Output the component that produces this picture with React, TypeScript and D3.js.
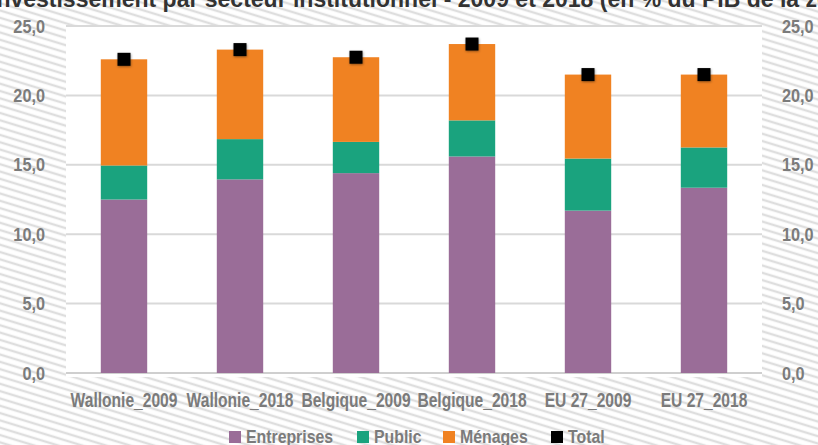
import React from 'react';
import * as d3 from 'd3';

const categories = ['Wallonie_2009', 'Wallonie_2018', 'Belgique_2009', 'Belgique_2018', 'EU 27_2009', 'EU 27_2018'];
const entreprises = [12.5, 13.95, 14.4, 15.6, 11.7, 13.35];
const publicInv = [2.45, 2.9, 2.25, 2.6, 3.75, 2.9];
const menages = [7.65, 6.45, 6.1, 5.5, 6.05, 5.25];
const total = [22.6, 23.3, 22.75, 23.7, 21.5, 21.5];
const yTicks = [0, 5, 10, 15, 20, 25];
const seriesNames = ['Entreprises', 'Public', 'Ménages'];
const seriesColors = ['#9a6d98', '#1aa37e', '#f08222'];

const W = 818, H = 445;
const FONT = "'Liberation Sans', Arial, sans-serif";
const GREY = '#7b7b7b';

// condensed text: horizontal squeeze of a regular bold face
const CText = (p: { x: number; y: number; sx: number; size: number; anchor?: string; fill?: string; children: any }) => (
  <text
    transform={`translate(${p.x},${p.y}) scale(${p.sx},1)`}
    textAnchor={p.anchor || 'start'}
    fontSize={p.size}
    fontWeight="bold"
    fill={p.fill || GREY}
  >
    {p.children}
  </text>
);

export default function App() {
  const x = d3.scaleBand<string>().domain(categories).range([66, 762]).paddingInner(0.6).paddingOuter(0.3);
  const y = d3.scaleLinear().domain([0, 25]).range([373, 26]);
  const fmt = (v: number) => d3.format('.1f')(v).replace('.', ',');

  const rows = categories.map((c, i) => ({ c, Entreprises: entreprises[i], Public: publicInv[i], 'Ménages': menages[i] }));
  const stacked = d3.stack<any>().keys(seriesNames)(rows);

  const legend = [
    { name: 'Entreprises', color: seriesColors[0], x: 229 },
    { name: 'Public', color: seriesColors[1], x: 357 },
    { name: 'Ménages', color: seriesColors[2], x: 443 },
    { name: 'Total', color: '#000', x: 551 },
  ];

  return (
    <svg width={W} height={H} style={{ position: 'absolute', left: 0, top: 0 }} fontFamily={FONT}>
      <defs>
        <pattern id="stripes" width="8" height="7" patternUnits="userSpaceOnUse" patternTransform="rotate(17)">
          <rect width="8" height="7" fill="#fff" />
          <line x1="0" y1="3" x2="8" y2="3" stroke="#dedede" strokeWidth="2.4" />
        </pattern>
        <filter id="shadow" x="-30%" y="-30%" width="160%" height="160%">
          <feDropShadow dx="0.5" dy="1" stdDeviation="0.8" floodColor="#000" floodOpacity="0.4" />
        </filter>
      </defs>
      <rect width={W} height={H} fill="url(#stripes)" />
      <rect x={66} y={26} width={696} height={351} fill="#fff" />

      <CText x={-10} y={7} sx={1.0} size={23} fill="#333">
        Investissement par secteur institutionnel - 2009 et 2018 (en % du PIB de la zone)
      </CText>

      {yTicks.map(t => (
        <g key={t}>
          <line x1={66} x2={762} y1={y(t)} y2={y(t)} stroke={t === 0 ? '#cfcfcf' : '#d9d9d9'} strokeWidth={2} />
          <CText x={45} y={y(t) + 6.5} sx={0.88} size={18.5} anchor="end">{fmt(t)}</CText>
          <CText x={782} y={y(t) + 6.5} sx={0.88} size={18.5}>{fmt(t)}</CText>
        </g>
      ))}

      {stacked.map((s, si) => (
        <g key={s.key} fill={seriesColors[si]}>
          {s.map((d, i) => (
            <rect key={i} x={x(categories[i])} width={x.bandwidth()} y={y(d[1])} height={y(d[0]) - y(d[1])} />
          ))}
        </g>
      ))}

      {total.map((v, i) => (
        <rect key={i} x={(x(categories[i]) as number) + x.bandwidth() / 2 - 6.5} y={y(v) - 6.5} width={13} height={13} fill="#050505" filter="url(#shadow)" />
      ))}

      {categories.map(c => (
        <CText key={c} x={(x(c) as number) + x.bandwidth() / 2} y={407} sx={0.8} size={19.5} anchor="middle">{c}</CText>
      ))}

      {legend.map(l => (
        <g key={l.name}>
          <rect x={l.x} y={431} width={12} height={12} fill={l.color} />
          <CText x={l.x + 17} y={443} sx={0.88} size={18}>{l.name}</CText>
        </g>
      ))}
    </svg>
  );
}
